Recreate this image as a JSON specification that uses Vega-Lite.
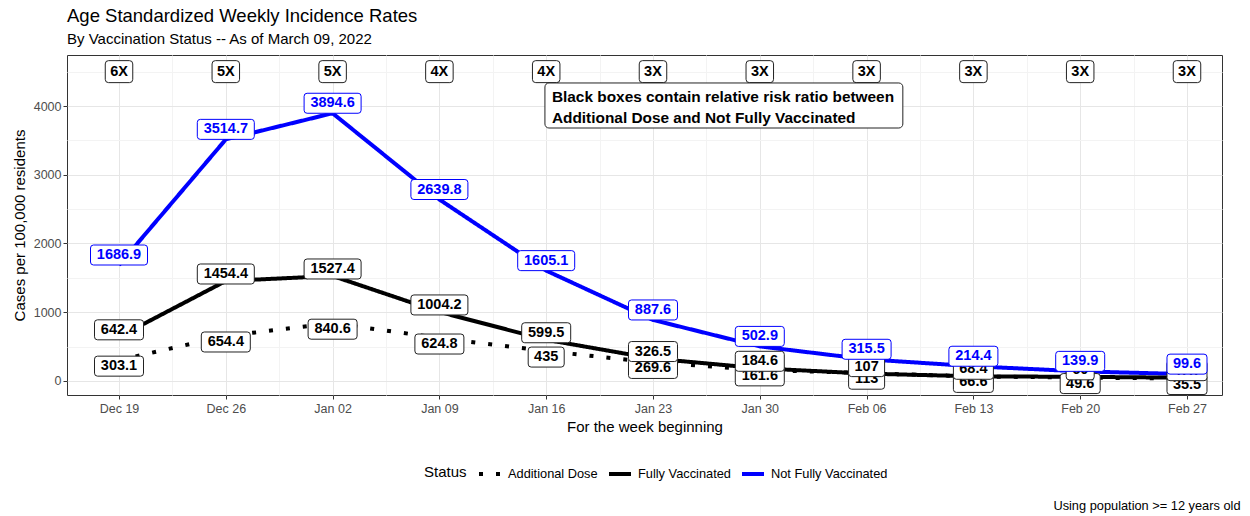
{
  "$schema": "https://vega.github.io/schema/vega-lite/v6.json",
  "width": 1155,
  "height": 340,
  "autosize": {"type": "none"},
  "padding": {"left": 67, "top": 55, "right": 28, "bottom": 121},
  "background": "white",
  "title": {
    "text": "Age Standardized Weekly Incidence Rates",
    "subtitle": "By Vaccination Status -- As of March 09, 2022",
    "anchor": "start",
    "frame": "group",
    "fontSize": 18.5,
    "subtitleFontSize": 15,
    "fontWeight": "normal",
    "color": "black",
    "subtitleColor": "black",
    "font": "Liberation Sans",
    "subtitleFont": "Liberation Sans",
    "offset": 8,
    "subtitlePadding": 7
  },
  "config": {
    "font": "Liberation Sans",
    "view": {"stroke": "#333333", "strokeWidth": 1},
    "legend": {
      "orient": "none",
      "legendX": 357,
      "legendY": 406,
      "direction": "horizontal",
      "titleOrient": "left",
      "titleFontSize": 15,
      "titleFontWeight": "normal",
      "titleColor": "black",
      "titlePadding": 10,
      "labelFontSize": 12.8,
      "labelColor": "black",
      "labelOffset": 5,
      "columnPadding": 3,
      "symbolType": "stroke",
      "symbolSize": 484,
      "symbolStrokeWidth": 4
    }
  },
  "datasets": {
    "rates": [
      {"week": "2021-12-19", "status": "Not Fully Vaccinated", "value": 1686.9},
      {"week": "2021-12-26", "status": "Not Fully Vaccinated", "value": 3514.7},
      {"week": "2022-01-02", "status": "Not Fully Vaccinated", "value": 3894.6},
      {"week": "2022-01-09", "status": "Not Fully Vaccinated", "value": 2639.8},
      {"week": "2022-01-16", "status": "Not Fully Vaccinated", "value": 1605.1},
      {"week": "2022-01-23", "status": "Not Fully Vaccinated", "value": 887.6},
      {"week": "2022-01-30", "status": "Not Fully Vaccinated", "value": 502.9},
      {"week": "2022-02-06", "status": "Not Fully Vaccinated", "value": 315.5},
      {"week": "2022-02-13", "status": "Not Fully Vaccinated", "value": 214.4},
      {"week": "2022-02-20", "status": "Not Fully Vaccinated", "value": 139.9},
      {"week": "2022-02-27", "status": "Not Fully Vaccinated", "value": 99.6},
      {"week": "2021-12-19", "status": "Fully Vaccinated", "value": 642.4},
      {"week": "2021-12-26", "status": "Fully Vaccinated", "value": 1454.4},
      {"week": "2022-01-02", "status": "Fully Vaccinated", "value": 1527.4},
      {"week": "2022-01-09", "status": "Fully Vaccinated", "value": 1004.2},
      {"week": "2022-01-16", "status": "Fully Vaccinated", "value": 599.5},
      {"week": "2022-01-23", "status": "Fully Vaccinated", "value": 326.5},
      {"week": "2022-01-30", "status": "Fully Vaccinated", "value": 184.6},
      {"week": "2022-02-06", "status": "Fully Vaccinated", "value": 107},
      {"week": "2022-02-13", "status": "Fully Vaccinated", "value": 68.4},
      {"week": "2022-02-20", "status": "Fully Vaccinated", "value": 60},
      {"week": "2022-02-27", "status": "Fully Vaccinated", "value": 47.7},
      {"week": "2021-12-19", "status": "Additional Dose", "value": 303.1},
      {"week": "2021-12-26", "status": "Additional Dose", "value": 654.4},
      {"week": "2022-01-02", "status": "Additional Dose", "value": 840.6},
      {"week": "2022-01-09", "status": "Additional Dose", "value": 624.8},
      {"week": "2022-01-16", "status": "Additional Dose", "value": 435},
      {"week": "2022-01-23", "status": "Additional Dose", "value": 269.6},
      {"week": "2022-01-30", "status": "Additional Dose", "value": 161.6},
      {"week": "2022-02-06", "status": "Additional Dose", "value": 113},
      {"week": "2022-02-13", "status": "Additional Dose", "value": 66.6},
      {"week": "2022-02-20", "status": "Additional Dose", "value": 49.6},
      {"week": "2022-02-27", "status": "Additional Dose", "value": 35.5}
    ],
    "ratios": [
      {"week": "2021-12-19", "ratio": "6X"},
      {"week": "2021-12-26", "ratio": "5X"},
      {"week": "2022-01-02", "ratio": "5X"},
      {"week": "2022-01-09", "ratio": "4X"},
      {"week": "2022-01-16", "ratio": "4X"},
      {"week": "2022-01-23", "ratio": "3X"},
      {"week": "2022-01-30", "ratio": "3X"},
      {"week": "2022-02-06", "ratio": "3X"},
      {"week": "2022-02-13", "ratio": "3X"},
      {"week": "2022-02-20", "ratio": "3X"},
      {"week": "2022-02-27", "ratio": "3X"}
    ]
  },
  "resolve": {"axis": {"x": "independent", "y": "independent"}},
  "layer": [
    {
      "data": {"name": "rates"},
      "mark": {"type": "line", "strokeWidth": 4, "strokeJoin": "round"},
      "encoding": {
        "x": {
          "field": "week",
          "type": "temporal",
          "scale": {
            "type": "utc",
            "domain": [
              {"year": 2021, "month": 12, "date": 15, "hours": 14, "minutes": 12, "utc": true},
              {"year": 2022, "month": 3, "date": 1, "hours": 7, "minutes": 4, "utc": true}
            ]
          },
          "axis": {
            "orient": "bottom",
            "title": "For the week beginning",
            "titleFontSize": 15,
            "titleFontWeight": "normal",
            "titleColor": "black",
            "titlePadding": 5,
            "labelColor": "#4d4d4d",
            "labelFontSize": 12.5,
            "labelPadding": 3,
            "tickColor": "#333333",
            "tickSize": 4,
            "domain": false,
            "values": [
              {"year": 2021, "month": 12, "date": 19, "utc": true},
              {"year": 2021, "month": 12, "date": 22, "hours": 12, "utc": true},
              {"year": 2021, "month": 12, "date": 26, "utc": true},
              {"year": 2021, "month": 12, "date": 29, "hours": 12, "utc": true},
              {"year": 2022, "month": 1, "date": 2, "utc": true},
              {"year": 2022, "month": 1, "date": 5, "hours": 12, "utc": true},
              {"year": 2022, "month": 1, "date": 9, "utc": true},
              {"year": 2022, "month": 1, "date": 12, "hours": 12, "utc": true},
              {"year": 2022, "month": 1, "date": 16, "utc": true},
              {"year": 2022, "month": 1, "date": 19, "hours": 12, "utc": true},
              {"year": 2022, "month": 1, "date": 23, "utc": true},
              {"year": 2022, "month": 1, "date": 26, "hours": 12, "utc": true},
              {"year": 2022, "month": 1, "date": 30, "utc": true},
              {"year": 2022, "month": 2, "date": 2, "hours": 12, "utc": true},
              {"year": 2022, "month": 2, "date": 6, "utc": true},
              {"year": 2022, "month": 2, "date": 9, "hours": 12, "utc": true},
              {"year": 2022, "month": 2, "date": 13, "utc": true},
              {"year": 2022, "month": 2, "date": 16, "hours": 12, "utc": true},
              {"year": 2022, "month": 2, "date": 20, "utc": true},
              {"year": 2022, "month": 2, "date": 23, "hours": 12, "utc": true},
              {"year": 2022, "month": 2, "date": 27, "utc": true}
            ],
            "labelExpr": "utchours(datum.value) === 0 ? utcFormat(datum.value, '%b %d') : ''",
            "tickOpacity": {"condition": {"test": "utchours(datum.value) === 0", "value": 1}, "value": 0},
            "grid": true,
            "gridColor": {"condition": {"test": "utchours(datum.value) === 0", "value": "#e6e6e6"}, "value": "#f3f3f3"},
            "gridWidth": 1
          }
        },
        "y": {
          "field": "value",
          "type": "quantitative",
          "scale": {"domain": [-204, 4742], "nice": false, "zero": false},
          "axis": {
            "orient": "left",
            "title": "Cases per 100,000 residents",
            "titleFontSize": 15,
            "titleFontWeight": "normal",
            "titleColor": "black",
            "titlePadding": 6,
            "labelColor": "#4d4d4d",
            "labelFontSize": 12.5,
            "labelPadding": 2,
            "tickColor": "#333333",
            "tickSize": 4,
            "domain": false,
            "format": "d",
            "values": [0, 500, 1000, 1500, 2000, 2500, 3000, 3500, 4000, 4500],
            "labelExpr": "datum.value % 1000 === 0 ? datum.label : ''",
            "tickOpacity": {"condition": {"test": "datum.value % 1000 === 0", "value": 1}, "value": 0},
            "grid": true,
            "gridColor": {"condition": {"test": "datum.value % 1000 === 0", "value": "#e6e6e6"}, "value": "#f3f3f3"}
          }
        },
        "color": {
          "field": "status",
          "type": "nominal",
          "title": "Status",
          "scale": {
            "domain": ["Additional Dose", "Fully Vaccinated", "Not Fully Vaccinated"],
            "range": ["black", "black", "blue"]
          }
        },
        "strokeDash": {
          "field": "status",
          "type": "nominal",
          "title": "Status",
          "scale": {
            "domain": ["Additional Dose", "Fully Vaccinated", "Not Fully Vaccinated"],
            "range": [[4, 13], [1, 0], [1, 0]]
          }
        }
      }
    },
    {
      "data": {"name": "rates"},
      "transform": [{"filter": "datum.status === 'Additional Dose'"}],
      "mark": {"type": "point", "filled": true, "fill": "white", "stroke": "#222222", "strokeWidth": 1, "opacity": 1, "size": 400, "yOffset": 6},
      "encoding": {
        "x": {"field": "week", "type": "temporal", "axis": null},
        "y": {"field": "value", "type": "quantitative", "axis": null},
        "shape": {
          "condition": [
            {"test": "length(toString(datum.value)) <= 2", "value": "M-1.1,-1H1.1Q1.4,-1,1.4,-0.7V0.7Q1.4,1,1.1,1H-1.1Q-1.4,1,-1.4,0.7V-0.7Q-1.4,-1,-1.1,-1Z"},
            {"test": "length(toString(datum.value)) == 3", "value": "M-1.5,-1H1.5Q1.8,-1,1.8,-0.7V0.7Q1.8,1,1.5,1H-1.5Q-1.8,1,-1.8,0.7V-0.7Q-1.8,-1,-1.5,-1Z"},
            {"test": "length(toString(datum.value)) == 4", "value": "M-1.7,-1H1.7Q2,-1,2,-0.7V0.7Q2,1,1.7,1H-1.7Q-2,1,-2,0.7V-0.7Q-2,-1,-1.7,-1Z"},
            {"test": "length(toString(datum.value)) == 5", "value": "M-2.15,-1H2.15Q2.45,-1,2.45,-0.7V0.7Q2.45,1,2.15,1H-2.15Q-2.45,1,-2.45,0.7V-0.7Q-2.45,-1,-2.15,-1Z"}
          ],
          "value": "M-2.55,-1H2.55Q2.85,-1,2.85,-0.7V0.7Q2.85,1,2.55,1H-2.55Q-2.85,1,-2.85,0.7V-0.7Q-2.85,-1,-2.55,-1Z"
        }
      }
    },
    {
      "data": {"name": "rates"},
      "transform": [{"filter": "datum.status === 'Additional Dose'"}],
      "mark": {"type": "text", "font": "Liberation Sans", "fontWeight": "bold", "fontSize": 14.5, "color": "black", "baseline": "middle", "align": "center", "yOffset": 6},
      "encoding": {
        "x": {"field": "week", "type": "temporal", "axis": null},
        "y": {"field": "value", "type": "quantitative", "axis": null},
        "text": {"field": "value", "type": "nominal"}
      }
    },
    {
      "data": {"name": "rates"},
      "transform": [{"filter": "datum.status === 'Fully Vaccinated'"}],
      "mark": {"type": "point", "filled": true, "fill": "white", "stroke": "#222222", "strokeWidth": 1, "opacity": 1, "size": 400, "yOffset": -7},
      "encoding": {
        "x": {"field": "week", "type": "temporal", "axis": null},
        "y": {"field": "value", "type": "quantitative", "axis": null},
        "shape": {
          "condition": [
            {"test": "length(toString(datum.value)) <= 2", "value": "M-1.1,-1H1.1Q1.4,-1,1.4,-0.7V0.7Q1.4,1,1.1,1H-1.1Q-1.4,1,-1.4,0.7V-0.7Q-1.4,-1,-1.1,-1Z"},
            {"test": "length(toString(datum.value)) == 3", "value": "M-1.5,-1H1.5Q1.8,-1,1.8,-0.7V0.7Q1.8,1,1.5,1H-1.5Q-1.8,1,-1.8,0.7V-0.7Q-1.8,-1,-1.5,-1Z"},
            {"test": "length(toString(datum.value)) == 4", "value": "M-1.7,-1H1.7Q2,-1,2,-0.7V0.7Q2,1,1.7,1H-1.7Q-2,1,-2,0.7V-0.7Q-2,-1,-1.7,-1Z"},
            {"test": "length(toString(datum.value)) == 5", "value": "M-2.15,-1H2.15Q2.45,-1,2.45,-0.7V0.7Q2.45,1,2.15,1H-2.15Q-2.45,1,-2.45,0.7V-0.7Q-2.45,-1,-2.15,-1Z"}
          ],
          "value": "M-2.55,-1H2.55Q2.85,-1,2.85,-0.7V0.7Q2.85,1,2.55,1H-2.55Q-2.85,1,-2.85,0.7V-0.7Q-2.85,-1,-2.55,-1Z"
        }
      }
    },
    {
      "data": {"name": "rates"},
      "transform": [{"filter": "datum.status === 'Fully Vaccinated'"}],
      "mark": {"type": "text", "font": "Liberation Sans", "fontWeight": "bold", "fontSize": 14.5, "color": "black", "baseline": "middle", "align": "center", "yOffset": -7},
      "encoding": {
        "x": {"field": "week", "type": "temporal", "axis": null},
        "y": {"field": "value", "type": "quantitative", "axis": null},
        "text": {"field": "value", "type": "nominal"}
      }
    },
    {
      "data": {"name": "rates"},
      "transform": [{"filter": "datum.status === 'Not Fully Vaccinated'"}],
      "mark": {"type": "point", "filled": true, "fill": "white", "stroke": "blue", "strokeWidth": 1, "opacity": 1, "size": 400, "yOffset": -10},
      "encoding": {
        "x": {"field": "week", "type": "temporal", "axis": null},
        "y": {"field": "value", "type": "quantitative", "axis": null},
        "shape": {
          "condition": [
            {"test": "length(toString(datum.value)) <= 2", "value": "M-1.1,-1H1.1Q1.4,-1,1.4,-0.7V0.7Q1.4,1,1.1,1H-1.1Q-1.4,1,-1.4,0.7V-0.7Q-1.4,-1,-1.1,-1Z"},
            {"test": "length(toString(datum.value)) == 3", "value": "M-1.5,-1H1.5Q1.8,-1,1.8,-0.7V0.7Q1.8,1,1.5,1H-1.5Q-1.8,1,-1.8,0.7V-0.7Q-1.8,-1,-1.5,-1Z"},
            {"test": "length(toString(datum.value)) == 4", "value": "M-1.7,-1H1.7Q2,-1,2,-0.7V0.7Q2,1,1.7,1H-1.7Q-2,1,-2,0.7V-0.7Q-2,-1,-1.7,-1Z"},
            {"test": "length(toString(datum.value)) == 5", "value": "M-2.15,-1H2.15Q2.45,-1,2.45,-0.7V0.7Q2.45,1,2.15,1H-2.15Q-2.45,1,-2.45,0.7V-0.7Q-2.45,-1,-2.15,-1Z"}
          ],
          "value": "M-2.55,-1H2.55Q2.85,-1,2.85,-0.7V0.7Q2.85,1,2.55,1H-2.55Q-2.85,1,-2.85,0.7V-0.7Q-2.85,-1,-2.55,-1Z"
        }
      }
    },
    {
      "data": {"name": "rates"},
      "transform": [{"filter": "datum.status === 'Not Fully Vaccinated'"}],
      "mark": {"type": "text", "font": "Liberation Sans", "fontWeight": "bold", "fontSize": 14.5, "color": "blue", "baseline": "middle", "align": "center", "yOffset": -10},
      "encoding": {
        "x": {"field": "week", "type": "temporal", "axis": null},
        "y": {"field": "value", "type": "quantitative", "axis": null},
        "text": {"field": "value", "type": "nominal"}
      }
    },
    {
      "data": {"name": "ratios"},
      "mark": {"type": "point", "filled": true, "fill": "white", "stroke": "#222222", "strokeWidth": 1, "opacity": 1, "size": 484},
      "encoding": {
        "x": {"field": "week", "type": "temporal", "axis": null},
        "y": {"datum": 4500, "type": "quantitative", "axis": null},
        "shape": {"value": "M-0.95,-1H0.95Q1.25,-1,1.25,-0.7V0.7Q1.25,1,0.95,1H-0.95Q-1.25,1,-1.25,0.7V-0.7Q-1.25,-1,-0.95,-1Z"}
      }
    },
    {
      "data": {"name": "ratios"},
      "mark": {"type": "text", "font": "Liberation Sans", "fontWeight": "bold", "fontSize": 14.5, "color": "black", "baseline": "middle", "align": "center"},
      "encoding": {
        "x": {
          "field": "week",
          "type": "temporal",
          "axis": {
            "orient": "bottom",
            "title": "Using population >= 12 years old",
            "labels": false,
            "ticks": false,
            "domain": false,
            "grid": false,
            "titleFontSize": 12.8,
            "titleFontWeight": "normal",
            "titleColor": "black",
            "titleAnchor": "end",
            "titleAlign": "right",
            "titleBaseline": "middle",
            "titleX": 1173,
            "titleY": 110
          }
        },
        "y": {"datum": 4500, "type": "quantitative", "axis": null},
        "text": {"field": "ratio", "type": "nominal"}
      }
    },
    {
      "data": {"values": [{}]},
      "mark": {"type": "rect", "fill": "white", "stroke": "#222222", "strokeWidth": 1, "cornerRadius": 4},
      "encoding": {
        "x": {"datum": {"year": 2022, "month": 1, "date": 15, "hours": 22, "utc": true}, "type": "temporal", "axis": null},
        "x2": {"datum": {"year": 2022, "month": 2, "date": 8, "hours": 9, "utc": true}},
        "y": {"datum": 4335, "type": "quantitative", "axis": null},
        "y2": {"datum": 3680}
      }
    },
    {
      "data": {"values": [{}]},
      "mark": {
        "type": "text",
        "font": "Liberation Sans",
        "fontWeight": "bold",
        "fontSize": 15.4,
        "color": "black",
        "align": "left",
        "baseline": "middle",
        "lineHeight": 21,
        "text": ["Black boxes contain relative risk ratio between", "Additional Dose and Not Fully Vaccinated"]
      },
      "encoding": {
        "x": {"datum": {"year": 2022, "month": 1, "date": 16, "hours": 9, "utc": true}, "type": "temporal", "axis": null},
        "y": {"datum": 4138, "type": "quantitative", "axis": null}
      }
    }
  ]
}
